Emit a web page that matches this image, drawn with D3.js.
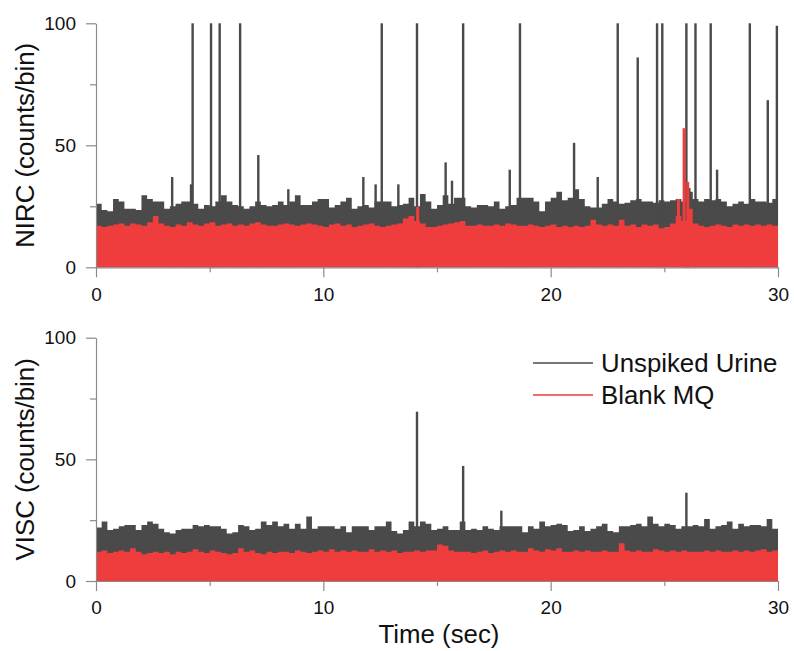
<!DOCTYPE html>
<html>
<head>
<script src="https://d3js.org/d3.v7.min.js"></script>
<title>NIRC / VISC traces</title>
<style>
body {
	margin: 0;
	background: #fff;
}

#root {
	width: 794px;
	height: 651px;
	display: block;
	font-family: "Liberation Sans", Arial, sans-serif;
}

.axis path, .axis line {
	stroke: #8a8a8a;
	stroke-width: 1.2;
}

.axis text {
	font-family: "Liberation Sans", Arial, sans-serif;
	font-size: 19px;
	fill: #111;
}

.title {
	font-size: 25.8px;
	fill: #111;
}
</style>
</head>
<body>
<svg id="root"></svg>

<script>
// one value per 0.25 s bin, 0..30 s
let binWidth = 0.25
let xMajor = [0, 10, 20, 30]
let xMinor = [5, 15, 25]
let yMajor = [0, 50, 100]
let yMinor = [25, 75]
let seriesNames = ['Unspiked Urine', 'Blank MQ']

let nircUrine = [
	26, 23.5, 23, 28, 27, 24, 24, 23.5, 29.5, 28,
	27, 27, 24, 25, 26, 27, 27, 26, 24, 25.5,
	25, 27, 29.5, 27, 25.5, 25, 24, 25, 27, 25.5,
	25, 25.5, 27, 25.5, 27, 29.5, 25.5, 25.5, 27, 28,
	28, 24.5, 25.5, 27, 28.5, 24, 25, 25.5, 24.5, 27,
	27, 27, 25, 25.5, 26, 28.5, 25, 30, 27, 24,
	25.5, 29.5, 26, 28.5, 28.5, 25, 24.5, 25.5, 25.5, 25,
	27, 24, 25, 25.5, 28.5, 28.5, 28.5, 27, 23, 27,
	28.5, 31, 27.5, 28.5, 32, 28, 25, 24.5, 24.5, 26,
	28, 27, 26, 26.5, 27.5, 28, 27, 27, 26.5, 27.5,
	27, 27.5, 28, 27, 31, 28, 27, 28, 27.5, 28,
	27, 25, 26, 27, 26, 28, 27, 27, 26.5, 28
]

let nircBlank = [
	17, 16.5, 17, 17.5, 18, 17, 18, 17.5, 17, 18.5,
	21, 18, 17, 16.5, 17.5, 17, 18.5, 17.5, 17, 18,
	18.5, 17, 17.5, 18, 17, 17.5, 17, 18, 18.5, 17.5,
	17, 17, 17.5, 18, 17.5, 17, 17.5, 18, 17.5, 17,
	16.5, 17.5, 18, 17, 17.5, 16.5, 17, 17.5, 18, 17,
	16.5, 17, 17.5, 18, 20, 21, 19, 18, 16.5, 16.5,
	17, 17.5, 18, 18.5, 19, 17, 17, 17.5, 17, 17,
	17.5, 17, 18, 17.5, 17, 17, 17.5, 17, 16.5, 17,
	17.5, 16.5, 17, 16.5, 17, 16.5, 17, 19.5, 17.5, 17,
	17.5, 17, 19.5, 17, 17.5, 16.5, 17.5, 17, 17.5, 16,
	16.5, 18, 21, 19, 24, 18, 17, 16.5, 17, 17.5,
	17, 16.5, 17.5, 17, 17.5, 17, 17.5, 17, 17.5, 17
]

// [time (s), counts] of the narrow bursts
let nircUrineSpikes = [
	[3.35, 37], [4.18, 34], [4.25, 100], [5.06, 100], [5.44, 100], [6.34, 100],
	[7.14, 46], [8.46, 32], [11.76, 37], [12.3, 34], [12.57, 100], [13.3, 34],
	[14.12, 100], [15.38, 43], [15.66, 35.5], [16.15, 100], [18.2, 40], [18.65, 100],
	[21.03, 51], [22.07, 37], [22.95, 100], [23.83, 86], [24.68, 100], [24.91, 100],
	[25.97, 100], [26.1, 32.5], [26.37, 100], [27.04, 100], [27.32, 40], [28.76, 100],
	[29.55, 68.5], [29.95, 99]
]
let nircBlankSpikes = [[14.15, 24.8], [25.62, 28], [25.87, 57], [26.03, 35]]

let viscUrine = [
	22, 24.5, 21, 21.5, 22.5, 23, 23, 21, 23, 24.5,
	23.5, 21.5, 20, 19.5, 21, 21.5, 21.5, 23, 22.5, 23,
	22.5, 22.5, 21.5, 19.5, 20, 23, 22.5, 21, 21.5, 24.5,
	23, 24.5, 22.5, 23.5, 21.5, 23.5, 21.5, 26.5, 21.5, 22.5,
	22.5, 22.5, 21.5, 22.5, 20, 22.5, 22.5, 22.5, 21, 22.5,
	22.5, 24.5, 20.5, 19.5, 21, 24.5, 22.5, 24.5, 23.5, 21,
	21.5, 22.5, 21, 21, 24.5, 21, 21.5, 21, 22.5, 21.5,
	21, 22.5, 22.5, 22.5, 22.5, 20, 22.5, 21.5, 24.5, 22.5,
	23, 23.5, 23, 20.5, 21, 22.5, 20.5, 21.5, 22.5, 23.5,
	20.5, 20, 22.5, 22.5, 23, 23.5, 22.5, 26.5, 23.5, 22.5,
	23.5, 23, 21.5, 22.5, 22.5, 23, 22.5, 25.5, 21.5, 22.5,
	23, 24.5, 21.5, 23.5, 22.5, 23, 23, 22.5, 25.5, 21.5
]

let viscBlank = [
	12, 12.5, 11.5, 12, 12.5, 12, 13.5, 12, 11, 11.5,
	12, 11.5, 12, 11, 12, 11.5, 12, 13, 12, 11.5,
	12.5, 12, 11.5, 11, 11.5, 13.5, 12, 12.5, 11.5, 11,
	12, 11.5, 12, 12, 11.5, 12.5, 12, 11.5, 12, 12.5,
	12, 13, 12, 12.5, 12, 12.5, 12, 12, 13, 12,
	12.5, 12, 12.5, 11.5, 12, 12, 12.5, 12, 12.5, 12.5,
	15, 14.5, 12.5, 12, 12, 12, 11.5, 12, 12.5, 11.5,
	12, 12.5, 12, 12.5, 12, 12, 13.5, 12.5, 12, 13,
	12.5, 13.5, 12, 12, 12.5, 12, 12.5, 12, 12, 12.5,
	12, 12, 15.5, 12.5, 12, 12.5, 12, 12, 13, 12.5,
	12, 12.5, 12, 12.5, 12, 12, 12, 12.5, 12, 12.5,
	12, 12, 12.5, 12, 12.5, 12, 12.5, 13, 12, 12.5
]

let viscUrineSpikes = [[14.12, 69.6], [16.15, 47.3], [17.83, 28.9], [25.97, 36.3]]
let viscBlankSpikes = []

let grey = '#4a4a4a'
let red = '#ef3d3d'

let root = d3.select('#root')
let x = d3.scaleLinear().domain([0, 30]).range([96, 778])

function Panel(root, p)
{
	let y = d3.scaleLinear().domain([0, 100]).range([p.bottom, p.top])
	let g = root.append('g')

	let area = d3.area()
		.curve(d3.curveStepAfter)
		.x((d, i) => x(i * binWidth))
		.y0(y(0))
		.y1(d => y(d))

	// repeat last value so the final bin reaches 30 s
	let steps = values => values.concat([values[values.length - 1]])

	function spikes(data, color, w)
	{
		g.append('g').selectAll('rect').data(data).enter().append('rect')
			.attr('x', d => x(d[0]) - w / 2)
			.attr('width', w)
			.attr('y', d => y(d[1]))
			.attr('height', d => y(0) - y(d[1]))
			.attr('fill', color)
	}

	g.append('path').datum(steps(p.urine)).attr('fill', grey).attr('d', area)
	spikes(p.urineSpikes, grey, 2.4)
	g.append('path').datum(steps(p.blank)).attr('fill', red).attr('d', area)
	spikes(p.blankSpikes, red, 3)

	// axes
	g.append('g').attr('class', 'axis').attr('transform', 'translate(0,' + y(0) + ')')
		.call(d3.axisBottom(x).tickValues(xMajor).tickSize(10).tickSizeOuter(0).tickPadding(10).tickFormat(d3.format('d')))
	g.append('g').attr('class', 'axis').attr('transform', 'translate(0,' + y(0) + ')')
		.call(d3.axisBottom(x).tickValues(xMinor).tickSize(5).tickFormat(''))
		.select('.domain').remove()
	g.append('g').attr('class', 'axis').attr('transform', 'translate(' + x(0) + ',0)')
		.call(d3.axisLeft(y).tickValues(yMajor).tickSize(10).tickSizeOuter(0).tickPadding(10))
	g.append('g').attr('class', 'axis').attr('transform', 'translate(' + x(0) + ',0)')
		.call(d3.axisLeft(y).tickValues(yMinor).tickSize(6).tickFormat(''))
		.select('.domain').remove()

	g.append('text').attr('class', 'title')
		.attr('transform', 'translate(34,' + ((p.top + p.bottom) / 2) + ') rotate(-90)')
		.attr('text-anchor', 'middle')
		.text(p.label)
	return y
}

Panel(root, { top: 23.3, bottom: 267.3, label: 'NIRC (counts/bin)',
	urine: nircUrine, blank: nircBlank, urineSpikes: nircUrineSpikes, blankSpikes: nircBlankSpikes })

Panel(root, { top: 337.7, bottom: 581, label: 'VISC (counts/bin)',
	urine: viscUrine, blank: viscBlank, urineSpikes: viscUrineSpikes, blankSpikes: viscBlankSpikes })

root.append('text').attr('class', 'title')
	.attr('x', (x(0) + x(30)) / 2 + 2).attr('y', 643)
	.attr('text-anchor', 'middle')
	.text('Time (sec)')

// legend
let legend = root.append('g').selectAll('g').data(seriesNames).enter().append('g')
	.attr('transform', (d, i) => 'translate(533,' + (363 + i * 32) + ')')
legend.append('line').attr('x1', 0).attr('x2', 60)
	.attr('stroke', (d, i) => i ? red : grey).attr('stroke-width', 1.6)
legend.append('text').attr('class', 'title').attr('x', 68).attr('dy', '0.36em').text(d => d)
</script>
</body>
</html>
